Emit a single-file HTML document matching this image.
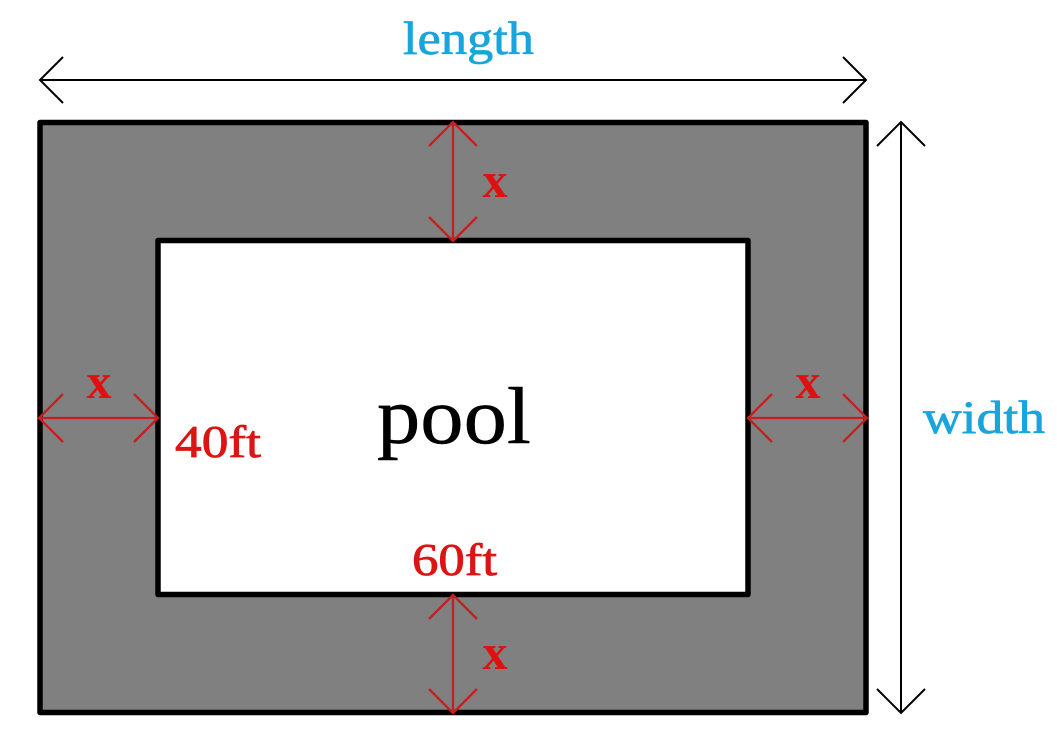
<!DOCTYPE html>
<html>
<head>
<meta charset="utf-8">
<style>
html,body{margin:0;padding:0;background:#fff;width:1057px;height:749px;overflow:hidden}
svg{display:block}
text{font-family:"Liberation Serif",serif}
</style>
</head>
<body>
<svg width="1057" height="749" viewBox="0 0 1057 749">
<rect x="40" y="122.500" width="826" height="590" fill="#808080" stroke="#000" stroke-width="5.500" stroke-linejoin="round"/>
<rect x="158" y="240.500" width="590" height="354" fill="#fff" stroke="#000" stroke-width="5.500" stroke-linejoin="round"/>
<g fill="none" stroke="#000" stroke-width="2">
<path d="M40 80H866M63 57L40 80L63 103M843 57L866 80L843 103"/>
<path d="M901 122V713M877 146L901 122L925 146M877 689L901 713L925 689"/>
</g>
<g fill="none" stroke="#c42020" stroke-width="2.300">
<path d="M453 122V241M429 146L453 122L477 146M429 217L453 241L477 217"/>
<path d="M453 595V713M429 619L453 595L477 619M429 689L453 713L477 689"/>
<path d="M39 418H158M63 394L39 418L63 442M134 394L158 418L134 442"/>
<path d="M748 418H867M772 394L748 418L772 442M843 394L867 418L843 442"/>
</g>
<g fill="#e01010" font-weight="bold" font-size="50" text-anchor="middle">
<text x="495" y="197">x</text>
<text x="495" y="669">x</text>
<text x="99" y="398">x</text>
<text x="808" y="398">x</text>
</g>
<g fill="#dc1414" stroke="#dc1414" stroke-width="0.800" font-size="46">
<text x="175" y="457" textLength="86" lengthAdjust="spacingAndGlyphs">40ft</text>
<text x="412" y="575" textLength="85" lengthAdjust="spacingAndGlyphs">60ft</text>
</g>
<g fill="#18a5dc" stroke="#18a5dc" stroke-width="0.700" font-size="47">
<text x="403" y="54" textLength="131" lengthAdjust="spacingAndGlyphs">length</text>
<text x="923" y="433" textLength="122" lengthAdjust="spacingAndGlyphs">width</text>
</g>
<text x="377" y="443" font-size="80" fill="#000" stroke="#000" stroke-width="0.500" textLength="154" lengthAdjust="spacingAndGlyphs">pool</text>
</svg>
</body>
</html>
